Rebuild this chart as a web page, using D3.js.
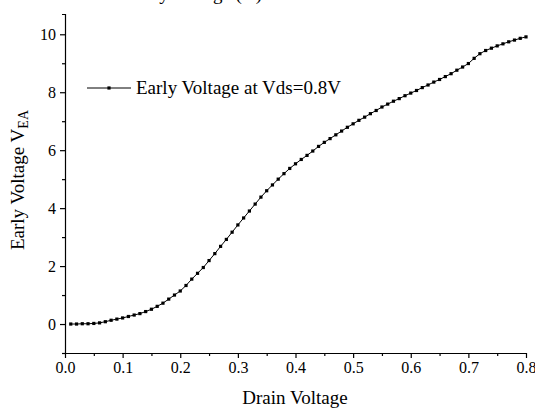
<!DOCTYPE html>
<html>
<head>
<meta charset="utf-8">
<script src="https://cdn.jsdelivr.net/npm/d3@7"></script>
<style>
  html, body { margin: 0; padding: 0; background: #fff; }
  svg { display: block; }
  .axis path, .axis line { stroke: #000; stroke-width: 1.2; }
  .axis text { fill: #000; font-size: 16px; }
</style>
</head>
<body>
<svg id="chart" width="535" height="410"></svg>
<script>
const serif = '"Liberation Serif", "Times New Roman", serif';

// drain voltage, 0.01 .. 0.80 in 0.01 steps
const drainVoltage = d3.range(1, 81).map(i => i / 100);

// early voltage
const earlyVoltage = [
  0.00, 0.00, 0.01, 0.01, 0.02, 0.04, 0.08, 0.13, 0.17, 0.21,
  0.26, 0.31, 0.36, 0.43, 0.51, 0.61, 0.72, 0.86, 1.00, 1.14,
  1.33, 1.55, 1.75, 1.95, 2.19, 2.43, 2.68, 2.92, 3.17, 3.42,
  3.66, 3.90, 4.14, 4.38, 4.60, 4.80, 5.00, 5.19, 5.37, 5.53,
  5.68, 5.82, 5.97, 6.13, 6.27, 6.40, 6.53, 6.66, 6.79, 6.91,
  7.03, 7.14, 7.26, 7.37, 7.49, 7.59, 7.69, 7.78, 7.88, 7.97,
  8.06, 8.16, 8.25, 8.35, 8.44, 8.54, 8.64, 8.76, 8.87, 8.99,
  9.17, 9.33, 9.44, 9.52, 9.60, 9.67, 9.74, 9.80, 9.86, 9.91
];

const xTicks = [0, 0.1, 0.2, 0.3, 0.4, 0.5, 0.6, 0.7, 0.8];
const xMinor = [0.05, 0.15, 0.25, 0.35, 0.45, 0.55, 0.65, 0.75];
const yTicks = [0, 2, 4, 6, 8, 10];
const yMinor = [-1, 1, 3, 5, 7, 9];

const seriesName = 'Early Voltage at Vds=0.8V';

const data = drainVoltage.map((v, i) => ({ x: v, y: earlyVoltage[i] }));

const svg = d3.select('#chart').attr('font-family', serif);
const x = d3.scaleLinear().domain([0, 0.8]).range([65, 526]);
const y = d3.scaleLinear().domain([-1, 10.7]).range([353, 14]);

// minor ticks first, so the major axis sits on top
svg.append('g')
  .attr('class', 'axis')
  .attr('transform', 'translate(0,353)')
  .call(d3.axisBottom(x).tickValues(xMinor).tickSize(3).tickFormat(''))
  .call(g => g.select('.domain').remove());

svg.append('g')
  .attr('class', 'axis')
  .attr('transform', 'translate(65,0)')
  .call(d3.axisLeft(y).tickValues(yMinor).tickSize(3).tickFormat(''))
  .call(g => g.select('.domain').remove());

svg.append('g')
  .attr('class', 'axis')
  .attr('transform', 'translate(0,353)')
  .call(d3.axisBottom(x).tickValues(xTicks).tickSize(5).tickSizeOuter(0).tickPadding(4).tickFormat(d3.format('.1f')))
  .attr('font-family', serif);

svg.append('g')
  .attr('class', 'axis')
  .attr('transform', 'translate(65,0)')
  .call(d3.axisLeft(y).tickValues(yTicks).tickSize(5).tickSizeOuter(3).tickPadding(4).tickFormat(d3.format('d')))
  .attr('font-family', serif);

// series
const line = d3.line()
  .x(d => x(d.x))
  .y(d => y(d.y))
  .curve(d3.curveLinear);

svg.append('path')
  .datum(data)
  .attr('fill', 'none')
  .attr('stroke', '#000')
  .attr('stroke-width', 1)
  .attr('d', line);

svg.append('g')
  .selectAll('rect')
  .data(data)
  .join('rect')
  .attr('x', d => x(d.x) - 1.6)
  .attr('y', d => y(d.y) - 1.6)
  .attr('width', 3.2)
  .attr('height', 3.2)
  .attr('fill', '#000');

// legend
const legend = svg.append('g').attr('transform', 'translate(87,88)');
legend.append('line')
  .attr('x1', 0).attr('x2', 44)
  .attr('y1', 0).attr('y2', 0)
  .attr('stroke', '#000').attr('stroke-width', 1);
legend.append('rect')
  .attr('x', 20.4).attr('y', -1.6)
  .attr('width', 3.2).attr('height', 3.2)
  .attr('fill', '#000');
legend.append('text')
  .attr('x', 49).attr('y', 6)
  .attr('font-size', 19)
  .text(seriesName);

// axis titles
svg.append('text')
  .attr('x', 295).attr('y', 404)
  .attr('text-anchor', 'middle')
  .attr('font-size', 19)
  .text('Drain Voltage');

const yTitle = svg.append('text')
  .attr('transform', 'translate(24,180) rotate(-90)')
  .attr('text-anchor', 'middle')
  .attr('font-size', 19);
yTitle.append('tspan').text('Early Voltage V');
yTitle.append('tspan').attr('dy', 4).attr('font-size', 14).text('EA');

// title, mostly cut off by the top edge as in the original figure
svg.append('text')
  .attr('x', 262).attr('y', 0)
  .attr('text-anchor', 'end')
  .attr('font-size', 19)
  .text('Early Voltage (V)');
</script>
</body>
</html>
